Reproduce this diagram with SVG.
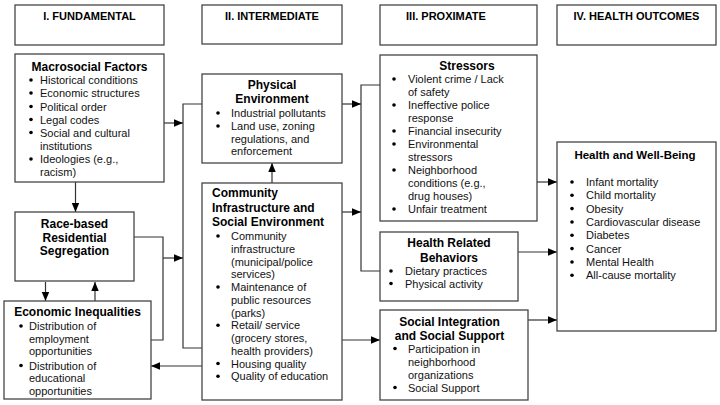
<svg xmlns="http://www.w3.org/2000/svg" width="720" height="405" viewBox="0 0 720 405">
<style>
.box{fill:#fff;stroke:#454545;stroke-width:1.3}
.hd{font-family:"Liberation Sans",Arial,sans-serif;font-size:11px;font-weight:bold;fill:#000;text-anchor:middle}
.tt{font-family:"Liberation Sans",Arial,sans-serif;font-size:12px;font-weight:bold;fill:#000}
.c{text-anchor:middle}
.tx{font-family:"Liberation Sans",Arial,sans-serif;font-size:11px;fill:#111}
.b{fill:#000}
.ln{fill:none;stroke:#333;stroke-width:1.2}
</style>
<defs>
<marker id="ah" markerUnits="userSpaceOnUse" markerWidth="10" markerHeight="8" refX="9" refY="3.75" orient="auto">
<path d="M0,0 L9,3.75 L0,7.5 z" fill="#000"/>
</marker>
</defs>
<rect width="720" height="405" fill="#fff"/>

<g id="h1"><rect class="box" x="15" y="5" width="149" height="40"/><text class="hd" x="89.5" y="19.5">I. FUNDAMENTAL</text></g>
<g id="h2"><rect class="box" x="202" y="5" width="140" height="39"/><text class="hd" x="272" y="19.5">II. INTERMEDIATE</text></g>
<g id="h3"><rect class="box" x="380" y="5" width="157" height="40"/><text class="hd" x="446" y="19.5">III. PROXIMATE</text></g>
<g id="h4"><rect class="box" x="557" y="5" width="159" height="40"/><text class="hd" x="636.5" y="19.5">IV. HEALTH OUTCOMES</text></g>

<g id="connectors">
<line class="ln" x1="75.5" y1="182" x2="75.5" y2="212" marker-end="url(#ah)"/>
<line class="ln" x1="45.5" y1="282" x2="45.5" y2="301" marker-end="url(#ah)"/>
<line class="ln" x1="95" y1="301" x2="95" y2="282" marker-end="url(#ah)"/>
<polyline class="ln" points="134,237 163,237 163,340 151,340"/>
<line class="ln" x1="163" y1="258" x2="183" y2="258" marker-end="url(#ah)"/>
<line class="ln" x1="164" y1="123" x2="183" y2="123" marker-end="url(#ah)"/>
<polyline class="ln" points="202,104 183,104 183,348 202,348"/>
<line class="ln" x1="272" y1="183" x2="272" y2="163" marker-end="url(#ah)"/>
<line class="ln" x1="202" y1="366" x2="151" y2="366" marker-end="url(#ah)"/>
<line class="ln" x1="342" y1="104" x2="361" y2="104" marker-end="url(#ah)"/>
<line class="ln" x1="342" y1="212" x2="361" y2="212" marker-end="url(#ah)"/>
<polyline class="ln" points="380,85 361,85 361,271 380,271"/>
<line class="ln" x1="342" y1="340" x2="380" y2="340" marker-end="url(#ah)"/>
<line class="ln" x1="537" y1="182" x2="557" y2="182" marker-end="url(#ah)"/>
<line class="ln" x1="518" y1="252" x2="557" y2="252" marker-end="url(#ah)"/>
<line class="ln" x1="528" y1="320" x2="557" y2="320" marker-end="url(#ah)"/>
</g>

<g id="macrosocial">
<rect class="box" x="15" y="54" width="149" height="128"/>
<text class="tt c" x="89.5" y="71">Macrosocial Factors</text>
<circle class="b" cx="31" cy="80" r="1.8"/><text class="tx" x="40" y="84">Historical conditions</text>
<circle class="b" cx="31" cy="93" r="1.8"/><text class="tx" x="40" y="97">Economic structures</text>
<circle class="b" cx="31" cy="106.5" r="1.8"/><text class="tx" x="40" y="110.5">Political order</text>
<circle class="b" cx="31" cy="119.5" r="1.8"/><text class="tx" x="40" y="123.5">Legal codes</text>
<circle class="b" cx="31" cy="132.5" r="1.8"/><text class="tx" x="40" y="136.5">Social and cultural</text>
<text class="tx" x="40" y="149.5">institutions</text>
<circle class="b" cx="31" cy="159" r="1.8"/><text class="tx" x="40" y="163">Ideologies (e.g.,</text>
<text class="tx" x="40" y="176">racism)</text>
</g>

<g id="race">
<rect class="box" x="15" y="212" width="119" height="69"/>
<text class="tt c" x="74.5" y="228">Race-based</text>
<text class="tt c" x="74.5" y="241.7">Residential</text>
<text class="tt c" x="74.5" y="255.4">Segregation</text>
</g>

<g id="economic">
<rect class="box" x="4" y="301" width="147" height="98"/>
<text class="tt c" x="77.5" y="316">Economic Inequalities</text>
<circle class="b" cx="21" cy="326" r="1.8"/><text class="tx" x="29" y="330">Distribution of</text>
<text class="tx" x="29" y="342.5">employment</text>
<text class="tx" x="29" y="355">opportunities</text>
<circle class="b" cx="21" cy="365.5" r="1.8"/><text class="tx" x="29" y="369.5">Distribution of</text>
<text class="tx" x="29" y="382">educational</text>
<text class="tx" x="29" y="394.5">opportunities</text>
</g>

<g id="physical">
<rect class="box" x="202" y="74" width="140" height="89"/>
<text class="tt c" x="272" y="89">Physical</text>
<text class="tt c" x="272" y="103">Environment</text>
<circle class="b" cx="218" cy="113" r="1.8"/><text class="tx" x="231" y="117">Industrial pollutants</text>
<circle class="b" cx="218" cy="126" r="1.8"/><text class="tx" x="231" y="130">Land use, zoning</text>
<text class="tx" x="231" y="142.5">regulations, and</text>
<text class="tx" x="231" y="155">enforcement</text>
</g>

<g id="community">
<rect class="box" x="202" y="183" width="140" height="217"/>
<text class="tt" x="212" y="197">Community</text>
<text class="tt" x="212" y="211.5">Infrastructure and</text>
<text class="tt" x="212" y="226">Social Environment</text>
<circle class="b" cx="218" cy="236" r="1.8"/><text class="tx" x="231" y="240">Community</text>
<text class="tx" x="231" y="252.75">infrastructure</text>
<text class="tx" x="231" y="265.5">(municipal/police</text>
<text class="tx" x="231" y="278.25">services)</text>
<circle class="b" cx="218" cy="287" r="1.8"/><text class="tx" x="231" y="291">Maintenance of</text>
<text class="tx" x="231" y="303.75">public resources</text>
<text class="tx" x="231" y="316.5">(parks)</text>
<circle class="b" cx="218" cy="325.25" r="1.8"/><text class="tx" x="231" y="329.25">Retail/ service</text>
<text class="tx" x="231" y="342">(grocery stores,</text>
<text class="tx" x="231" y="354.75">health providers)</text>
<circle class="b" cx="218" cy="363.5" r="1.8"/><text class="tx" x="231" y="367.5">Housing quality</text>
<circle class="b" cx="218" cy="376.25" r="1.8"/><text class="tx" x="231" y="380.25">Quality of education</text>
</g>

<g id="stressors">
<rect class="box" x="380" y="55" width="157" height="166"/>
<text class="tt c" x="467" y="70">Stressors</text>
<circle class="b" cx="394" cy="79" r="1.8"/><text class="tx" x="408" y="83">Violent crime / Lack</text>
<text class="tx" x="408" y="96">of safety</text>
<circle class="b" cx="394" cy="105" r="1.8"/><text class="tx" x="408" y="109">Ineffective police</text>
<text class="tx" x="408" y="122">response</text>
<circle class="b" cx="394" cy="131" r="1.8"/><text class="tx" x="408" y="135">Financial insecurity</text>
<circle class="b" cx="394" cy="144" r="1.8"/><text class="tx" x="408" y="148">Environmental</text>
<text class="tx" x="408" y="161">stressors</text>
<circle class="b" cx="394" cy="170" r="1.8"/><text class="tx" x="408" y="174">Neighborhood</text>
<text class="tx" x="408" y="187">conditions (e.g.,</text>
<text class="tx" x="408" y="200">drug houses)</text>
<circle class="b" cx="394" cy="209" r="1.8"/><text class="tx" x="408" y="213">Unfair treatment</text>
</g>

<g id="behaviors">
<rect class="box" x="380" y="232" width="138" height="69"/>
<text class="tt c" x="449" y="247.3">Health Related</text>
<text class="tt c" x="449" y="261.5">Behaviors</text>
<circle class="b" cx="391" cy="271" r="1.8"/><text class="tx" x="405" y="275">Dietary practices</text>
<circle class="b" cx="391" cy="283.5" r="1.8"/><text class="tx" x="405" y="287.5">Physical activity</text>
</g>

<g id="social">
<rect class="box" x="380" y="310" width="148" height="90"/>
<text class="tt c" x="449.5" y="325.5">Social Integration</text>
<text class="tt c" x="449.5" y="339.5">and Social Support</text>
<circle class="b" cx="395" cy="348.5" r="1.8"/><text class="tx" x="408" y="352.5">Participation in</text>
<text class="tx" x="408" y="365.5">neighborhood</text>
<text class="tx" x="408" y="378.5">organizations</text>
<circle class="b" cx="395" cy="387.5" r="1.8"/><text class="tx" x="408" y="391.5">Social Support</text>
</g>

<g id="health">
<rect class="box" x="557" y="142" width="159" height="189"/>
<text class="tt c" x="635" y="159" style="font-size:11.5px">Health and Well-Being</text>
<circle class="b" cx="572" cy="182" r="1.8"/><text class="tx" x="586" y="186">Infant mortality</text>
<circle class="b" cx="572" cy="195.3" r="1.8"/><text class="tx" x="586" y="199.3">Child mortality</text>
<circle class="b" cx="572" cy="208.6" r="1.8"/><text class="tx" x="586" y="212.6">Obesity</text>
<circle class="b" cx="572" cy="222" r="1.8"/><text class="tx" x="586" y="226">Cardiovascular disease</text>
<circle class="b" cx="572" cy="235.3" r="1.8"/><text class="tx" x="586" y="239.3">Diabetes</text>
<circle class="b" cx="572" cy="248.6" r="1.8"/><text class="tx" x="586" y="252.6">Cancer</text>
<circle class="b" cx="572" cy="262" r="1.8"/><text class="tx" x="586" y="266">Mental Health</text>
<circle class="b" cx="572" cy="275.3" r="1.8"/><text class="tx" x="586" y="279.3">All-cause mortality</text>
</g>
</svg>
